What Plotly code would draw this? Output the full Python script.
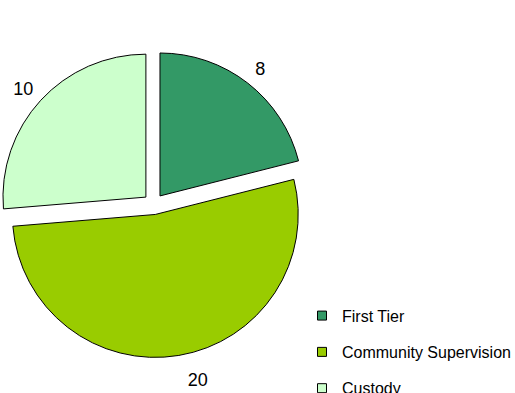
import plotly.graph_objects as go

categories = ["First Tier", "Community Supervision", "Custody"]
values = [8, 20, 10]
colors = ["#339966", "#99CC00", "#CCFFCC"]

FONT = "Liberation Sans, Arial, sans-serif"
VAL = "<span style='font-size:18px'>%{value}</span>"

fig = go.Figure()
fig.add_trace(go.Pie(
    labels=categories,
    values=values,
    sort=False,
    direction="clockwise",
    rotation=0,
    pull=[0.073, 0.073, 0.073],
    marker=dict(colors=colors, line=dict(color="black", width=1)),
    textinfo="value",
    texttemplate=[VAL + "<br> ",
                  " <br> <br>" + VAL,
                  VAL + "<br> "],
    textposition="outside",
    outsidetextfont=dict(family=FONT, size=9, color="black"),
    domain=dict(x=[0.0004, 0.596], y=[0.090, 0.871]),
    hoverinfo="label+value",
    showlegend=False,
))

# legend entries (one per category, same colours as the slices)
for i, (cat, col) in enumerate(zip(categories, colors)):
    fig.add_trace(go.Scatter(
        x=[None], y=[None], mode="markers", name=cat,
        legendgroup=f"g{i}",
        marker=dict(symbol="square", size=9, color=col,
                    line=dict(color="black", width=1)),
        hoverinfo="skip",
    ))

fig.update_layout(
    width=515, height=393,
    margin=dict(l=0, r=0, t=0, b=0, autoexpand=False),
    paper_bgcolor="white",
    plot_bgcolor="white",
    font=dict(family=FONT, size=16, color="black"),
    xaxis=dict(visible=False),
    yaxis=dict(visible=False),
    legend=dict(
        x=302 / 515, y=0.240, xanchor="left", yanchor="top",
        font=dict(family=FONT, size=16, color="black"),
        traceorder="grouped",
        tracegroupgap=12.5,
        bgcolor="rgba(0,0,0,0)",
        borderwidth=0,
    ),
)

fig.write_html(
    "out.html",
    config={"displayModeBar": False},
    post_script="document.body.style.margin='0';document.body.style.overflow='hidden';",
)
